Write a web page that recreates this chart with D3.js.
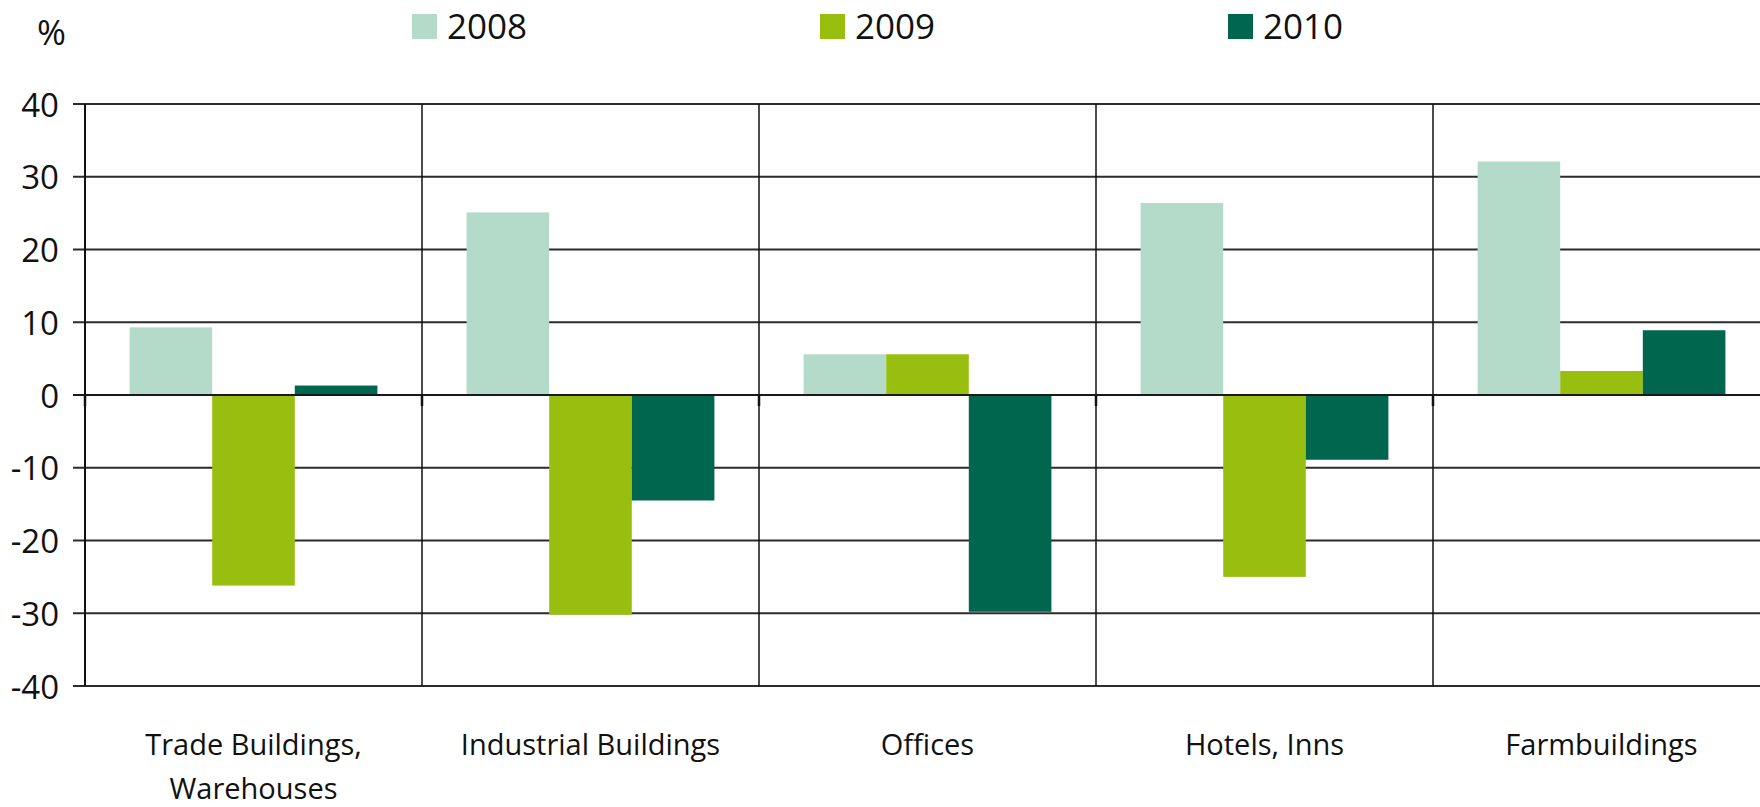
<!DOCTYPE html>
<html>
<head>
<meta charset="utf-8">
<script src="https://cdn.jsdelivr.net/npm/d3@7"></script>
<style>
  body { margin: 0; background: #fff; }
  svg text { font-family: "Open Sans", sans-serif; fill: #111; }
</style>
</head>
<body>
<div id="vis"></div>
<script>
const categories = [["Trade Buildings,", "Warehouses"], ["Industrial Buildings"], ["Offices"], ["Hotels, Inns"], ["Farmbuildings"]];
const years = ["2008", "2009", "2010"];
const values2008 = [9.3, 25.1, 5.6, 26.4, 32.1];
const values2009 = [-26.2, -30.2, 5.6, -25.0, 3.3];
const values2010 = [1.3, -14.5, -29.8, -8.9, 8.9];
const yTicks = [40, 30, 20, 10, 0, -10, -20, -30, -40];
const colors = ["#b4dbca", "#98bf0f", "#00664d"];

const width = 1760, height = 807;
const svg = d3.select("#vis").append("svg")
    .attr("width", width)
    .attr("height", height);

const plotLeft = 85, plotTop = 104, plotBottom = 686;

const rows = categories.map((c, i) => ({
    key: i,
    label: c,
    vals: [values2008[i], values2009[i], values2010[i]]
}));

const x0 = d3.scaleBand()
    .domain(rows.map(d => d.key))
    .range([plotLeft, plotLeft + 5 * 337]);

const x1 = d3.scaleBand()
    .domain(years)
    .range([0, x0.bandwidth()])
    .paddingOuter(0.54);

const y = d3.scaleLinear()
    .domain([-40, 40])
    .range([plotBottom, plotTop]);

const color = d3.scaleOrdinal().domain(years).range(colors);

// horizontal grid lines (not zero)
svg.append("g")
    .selectAll("line")
    .data(yTicks.filter(t => t !== 0))
    .join("line")
    .attr("x1", 73)
    .attr("x2", width)
    .attr("y1", d => y(d))
    .attr("y2", d => y(d))
    .attr("stroke", "#2b2b2b")
    .attr("stroke-width", 2);

// category dividers + left axis
svg.append("g")
    .selectAll("line")
    .data(d3.range(5))
    .join("line")
    .attr("x1", d => x0(d))
    .attr("x2", d => x0(d))
    .attr("y1", plotTop)
    .attr("y2", plotBottom)
    .attr("stroke", "#111")
    .attr("stroke-width", d => d === 0 ? 2 : 1.5);

// bars
svg.append("g")
    .selectAll("g")
    .data(rows)
    .join("g")
    .attr("transform", d => `translate(${x0(d.key)},0)`)
    .selectAll("rect")
    .data(d => d.vals.map((v, j) => ({ year: years[j], value: v })))
    .join("rect")
    .attr("x", d => x1(d.year))
    .attr("width", x1.bandwidth())
    .attr("y", d => y(Math.max(0, d.value)))
    .attr("height", d => Math.abs(y(d.value) - y(0)))
    .attr("fill", d => color(d.year));

// zero line on top of bars
svg.append("line")
    .attr("x1", 73)
    .attr("x2", width)
    .attr("y1", y(0))
    .attr("y2", y(0))
    .attr("stroke", "#1a1a1a")
    .attr("stroke-width", 2.2);

// small ticks under zero line at category edges
svg.append("g")
    .selectAll("line")
    .data(d3.range(5))
    .join("line")
    .attr("x1", d => x0(d))
    .attr("x2", d => x0(d))
    .attr("y1", y(0))
    .attr("y2", y(0) + 11)
    .attr("stroke", "#111")
    .attr("stroke-width", 2.5);

// y tick labels
svg.append("g")
    .selectAll("text")
    .data(yTicks)
    .join("text")
    .attr("x", 59)
    .attr("y", d => y(d))
    .attr("dy", "0.38em")
    .attr("text-anchor", "end")
    .style("font-size", "33px")
    .text(d => d);

svg.append("text")
    .attr("x", 37)
    .attr("y", 45)
    .style("font-size", "35px")
    .text("%");

// category labels
svg.append("g")
    .selectAll("text")
    .data(rows)
    .join("text")
    .attr("x", d => x0(d.key) + x0.bandwidth() / 2)
    .attr("y", 755)
    .attr("text-anchor", "middle")
    .style("font-size", "29px")
    .selectAll("tspan")
    .data(d => d.label)
    .join("tspan")
    .attr("x", function () { return this.parentNode.getAttribute("x"); })
    .attr("dy", (d, i) => i === 0 ? 0 : 44)
    .text(d => d);

// legend
const legend = svg.append("g")
    .selectAll("g")
    .data(years)
    .join("g")
    .attr("transform", (d, i) => `translate(${412 + i * 408},14)`);

legend.append("rect")
    .attr("width", 25)
    .attr("height", 25)
    .attr("fill", d => color(d));

legend.append("text")
    .attr("x", 35)
    .attr("y", 25)
    .style("font-size", "35px")
    .text(d => d);
</script>
</body>
</html>
